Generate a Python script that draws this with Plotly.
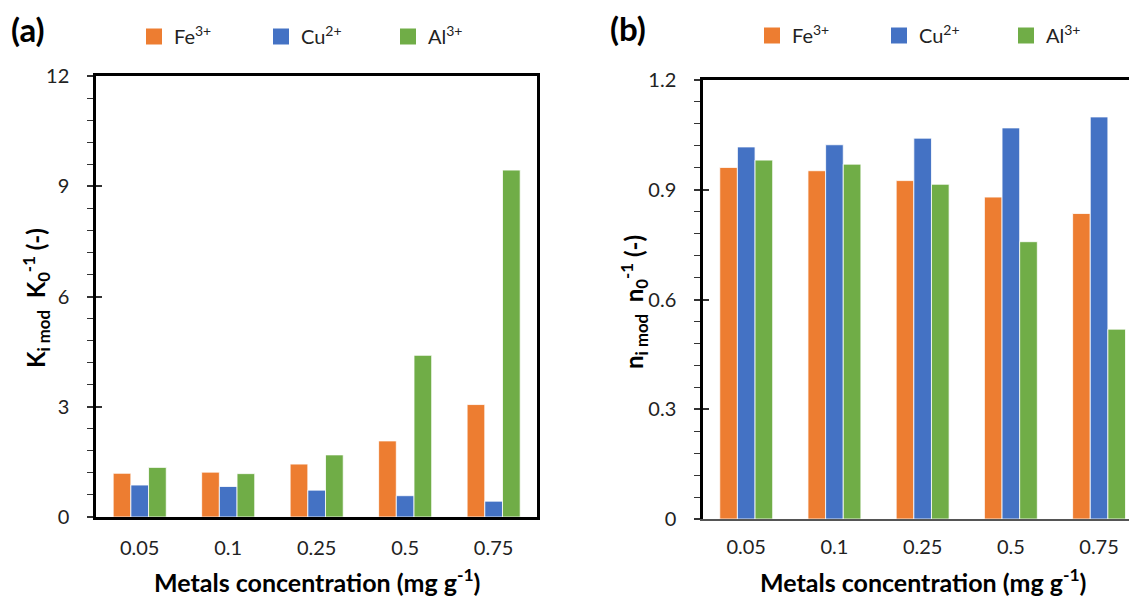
import plotly.graph_objects as go

categories = ["0.05", "0.1", "0.25", "0.5", "0.75"]
series_names = ["Fe<sup>3+</sup>", "Cu<sup>2+</sup>", "Al<sup>3+</sup>"]
colors = ["#ED7D31", "#4472C4", "#70AD47"]

# Panel (a): K_i mod / K_0
k_fe = [1.19, 1.22, 1.44, 2.07, 3.06]
k_cu = [0.87, 0.83, 0.73, 0.58, 0.43]
k_al = [1.35, 1.18, 1.69, 4.40, 9.44]

# Panel (b): n_i mod / n_0
n_fe = [0.961, 0.952, 0.925, 0.880, 0.835]
n_cu = [1.017, 1.023, 1.041, 1.069, 1.099]
n_al = [0.981, 0.970, 0.915, 0.758, 0.519]

y_ticks_a = [0, 3, 6, 9, 12]
y_ticks_b = [0, 0.3, 0.6, 0.9, 1.2]
y_ticklabels_b = ["0", "0.3", "0.6", "0.9", "1.2"]

# the page body adds an 8px margin; size the figure so it fills the 1137x597 window
OFF = 8
W, H = 1137 - OFF, 597 - OFF
FONT = "Lato"

fig = go.Figure()

bar_line = dict(color="rgba(255,255,255,0.8)", width=1)
for name, vals, col in zip(series_names, [k_fe, k_cu, k_al], colors):
    fig.add_trace(go.Bar(x=categories, y=vals, name=name, marker=dict(color=col, line=bar_line),
                         xaxis="x", yaxis="y", showlegend=False))
for name, vals, col in zip(series_names, [n_fe, n_cu, n_al], colors):
    fig.add_trace(go.Bar(x=categories, y=vals, name=name, marker=dict(color=col, line=bar_line),
                         xaxis="x2", yaxis="y2", showlegend=False))

# legend entries (square markers)
for name, col in zip(series_names, colors):
    fig.add_trace(go.Scatter(x=[None], y=[None], mode="markers", name=name,
                             marker=dict(symbol="square", size=16, color=col),
                             xaxis="x", yaxis="y", legend="legend", hoverinfo="skip"))
    fig.add_trace(go.Scatter(x=[None], y=[None], mode="markers", name=name,
                             marker=dict(symbol="square", size=16, color=col),
                             xaxis="x2", yaxis="y2", legend="legend2", hoverinfo="skip"))

# empty traces to activate overlay axes
fig.add_trace(go.Scatter(x=[None], y=[None], xaxis="x", yaxis="y3", showlegend=False, hoverinfo="skip"))
fig.add_trace(go.Scatter(x=[None], y=[None], xaxis="x2", yaxis="y4", showlegend=False, hoverinfo="skip"))
fig.add_trace(go.Scatter(x=[None], y=[None], xaxis="x4", yaxis="y2", showlegend=False, hoverinfo="skip"))

def px_x(p):
    return (p - OFF) / W

def px_y(p):
    return 1 - (p - OFF) / H

ax_a_x = [px_x(96), px_x(537)]
ax_a_y = [px_y(517), px_y(76)]
ax_b_x = [px_x(703), 1.0]
ax_b_y = [px_y(519), px_y(80)]

tickfont = dict(family=FONT, size=20, color="#222")
legfont = dict(family=FONT, size=20, color="#222")

fig.update_layout(
    width=W, height=H, autosize=False,
    margin=dict(l=0, r=0, t=0, b=0, autoexpand=False),
    paper_bgcolor="white", plot_bgcolor="white",
    barmode="group", bargap=0.4, bargroupgap=0,
    font=dict(family=FONT, color="black"),
    xaxis=dict(domain=ax_a_x, anchor="y", type="category", range=[-0.494, 4.49],
               showline=True, linecolor="black", linewidth=2.5, mirror=True,
               ticks="", tickfont=tickfont, ticklabelstandoff=11, showgrid=False, zeroline=False),
    yaxis=dict(domain=ax_a_y, anchor="x", range=[0, 12], tickvals=y_ticks_a,
               showline=True, linecolor="black", linewidth=2.5, mirror=True,
               ticks="outside", ticklen=6, tickwidth=1.5, tickcolor="#333",
               minor=dict(dtick=0.6, tick0=0, ticks="outside", ticklen=6, tickwidth=1.2, tickcolor="#333", showgrid=False),
               tickfont=tickfont, ticklabelstandoff=14, showgrid=False, zeroline=False),
    yaxis3=dict(overlaying="y", anchor="x", range=[0, 12], tickvals=y_ticks_a, showticklabels=False,
                ticks="inside", ticklen=6, tickwidth=1.5, tickcolor="#333", showline=False,
                showgrid=False, zeroline=False),
    xaxis2=dict(domain=ax_b_x, anchor="y2", type="category", range=[-0.49, 4.43],
                showline=True, linecolor="#555", linewidth=2, mirror=False,
                ticks="", tickfont=tickfont, ticklabelstandoff=9, showgrid=False, zeroline=False),
    xaxis4=dict(overlaying="x2", anchor="y2", side="top", type="category", range=[-0.49, 4.43],
                showline=True, linecolor="black", linewidth=2.5, ticks="", showticklabels=False,
                showgrid=False, zeroline=False),
    yaxis2=dict(domain=ax_b_y, anchor="x2", range=[0, 1.2], tickvals=y_ticks_b, ticktext=y_ticklabels_b,
                showline=True, linecolor="black", linewidth=2.5, mirror=False,
                ticks="outside", ticklen=6, tickwidth=1.5, tickcolor="#333",
                minor=dict(dtick=0.06, tick0=0, ticks="outside", ticklen=6, tickwidth=1.2, tickcolor="#333", showgrid=False),
                tickfont=tickfont, ticklabelstandoff=14, showgrid=False, zeroline=False),
    yaxis4=dict(overlaying="y2", anchor="x2", range=[0, 1.2], tickvals=y_ticks_b, showticklabels=False,
                ticks="inside", ticklen=6, tickwidth=1.5, tickcolor="#333", showline=False,
                showgrid=False, zeroline=False),
    legend=dict(orientation="h", x=px_x(134), xanchor="left", y=px_y(36.5), yanchor="middle",
                font=legfont, entrywidth=82, entrywidthmode="pixels",
                bgcolor="rgba(0,0,0,0)", borderwidth=0, itemclick=False),
    legend2=dict(orientation="h", x=px_x(752), xanchor="left", y=px_y(35.5), yanchor="middle",
                 font=legfont, entrywidth=82, entrywidthmode="pixels",
                 bgcolor="rgba(0,0,0,0)", borderwidth=0, itemclick=False),
    annotations=[
        dict(text="<b>(a)</b>", x=px_x(28), y=px_y(29), xref="paper", yref="paper", showarrow=False,
             font=dict(family=FONT, size=33, color="black"), xanchor="center", yanchor="middle"),
        dict(text="<b>(b)</b>", x=px_x(628), y=px_y(28), xref="paper", yref="paper", showarrow=False,
             font=dict(family=FONT, size=33, color="black"), xanchor="center", yanchor="middle"),
        dict(text="<b>K<sub>i mod</sub>  K<sub>0</sub><sup>-1</sup> (-)</b>", x=px_x(36), y=px_y(298),
             xref="paper", yref="paper", showarrow=False, textangle=-90,
             font=dict(family=FONT, size=24, color="black"), xanchor="center", yanchor="middle"),
        dict(text="<b>n<sub>i mod</sub>  n<sub>0</sub><sup>-1</sup> (-)</b>", x=px_x(634), y=px_y(302),
             xref="paper", yref="paper", showarrow=False, textangle=-90,
             font=dict(family=FONT, size=24, color="black"), xanchor="center", yanchor="middle"),
        dict(text="<b>Metals concentration (mg g<sup>-1</sup>)</b>", x=px_x(317), y=px_y(580),
             xref="paper", yref="paper", showarrow=False,
             font=dict(family=FONT, size=25, color="black"), xanchor="center", yanchor="middle"),
        dict(text="<b>Metals concentration (mg g<sup>-1</sup>)</b>", x=px_x(923), y=px_y(580),
             xref="paper", yref="paper", showarrow=False,
             font=dict(family=FONT, size=25, color="black"), xanchor="center", yanchor="middle"),
    ],
)

fig.write_html("out.html")
